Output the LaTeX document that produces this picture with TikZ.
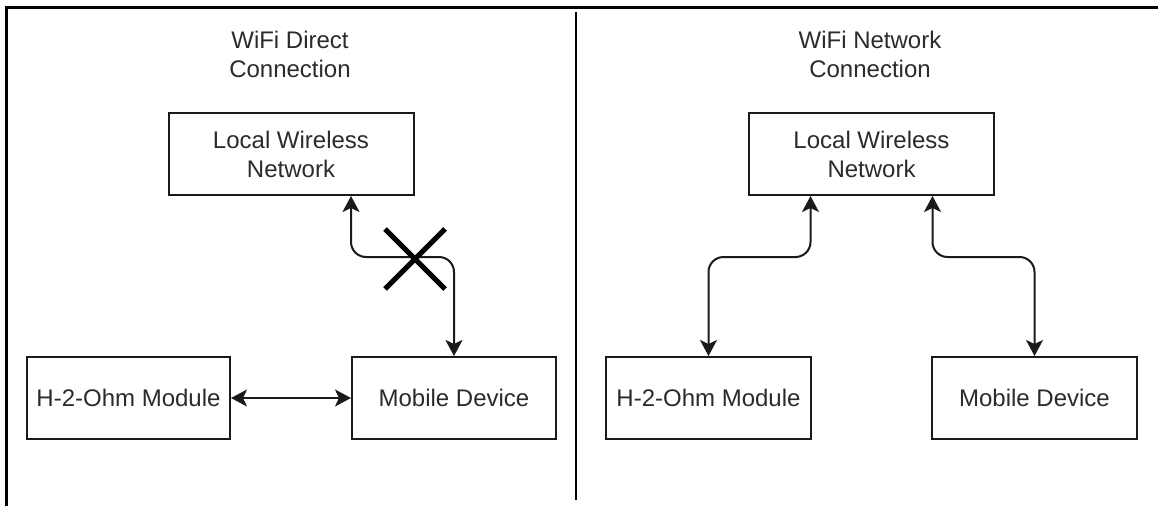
\documentclass[tikz,border=0pt]{standalone}
\usepackage{fontspec}
\setmainfont{Liberation Sans}
\usetikzlibrary{arrows.meta,calc}
\definecolor{ink}{HTML}{1A1A1A}
\definecolor{txt}{HTML}{2B2B2B}
\begin{document}
\begin{tikzpicture}[x=1pt,y=-1pt,
  every node/.style={font=\fontsize{24}{29}\selectfont, text=txt},
  box/.style={draw=ink, line width=2pt, rectangle, align=center, inner sep=0pt},
  title/.style={align=center, inner sep=0pt},
  conn/.style={draw=ink, line width=2pt, rounded corners=15pt,
    {Stealth[length=16pt,width=17pt,inset=4pt]}-{Stealth[length=16pt,width=17pt,inset=4pt]}},
  frame/.style={draw=black, line width=3pt},
  divider/.style={draw=black, line width=2pt},
  crossmark/.style={draw=black, line width=5pt}]
\useasboundingbox (0,0) rectangle (1158,506);
\fill[white] (0,0) rectangle (1158,506);

% outer frame (top and left edges)
\draw[frame] (6,506) -- (6,7) -- (1158,7);
% divider between the two panels
\draw[divider] (576,12) -- (576,500);

% ---- left panel: WiFi Direct ----
\node[title] (titleA) at (290,54) {WiFi Direct\\Connection};
\node[box, minimum width=245pt, minimum height=82pt] (lwnA) at (291,154) {Local Wireless\\Network};
\node[box, minimum width=203pt, minimum height=82pt] (h2oA) at (128.5,398) {H-2-Ohm Module};
\node[box, minimum width=204pt, minimum height=82pt] (mdA) at (454,398) {Mobile Device};

\draw[conn] ($(lwnA.south)+(60,0)$) -- ++(0,61) -| (mdA.north);
\draw[conn] (h2oA.east) -- (mdA.west);

% blocked link
\coordinate (xc) at (415,259);
\draw[crossmark] ($(xc)+(-30,-30)$) -- ($(xc)+(30,30)$);
\draw[crossmark] ($(xc)+(-30,30)$) -- ($(xc)+(30,-30)$);

% ---- right panel: WiFi Network ----
\node[title] (titleB) at (870,54) {WiFi Network\\Connection};
\node[box, minimum width=245pt, minimum height=82pt] (lwnB) at (871.5,154) {Local Wireless\\Network};
\node[box, minimum width=205pt, minimum height=82pt] (h2oB) at (708.5,398) {H-2-Ohm Module};
\node[box, minimum width=205pt, minimum height=82pt] (mdB) at (1034.5,398) {Mobile Device};

\draw[conn] ($(lwnB.south)+(-61,0)$) -- ++(0,61) -| (h2oB.north);
\draw[conn] ($(lwnB.south)+(61,0)$) -- ++(0,61) -| (mdB.north);
\end{tikzpicture}
\end{document}
